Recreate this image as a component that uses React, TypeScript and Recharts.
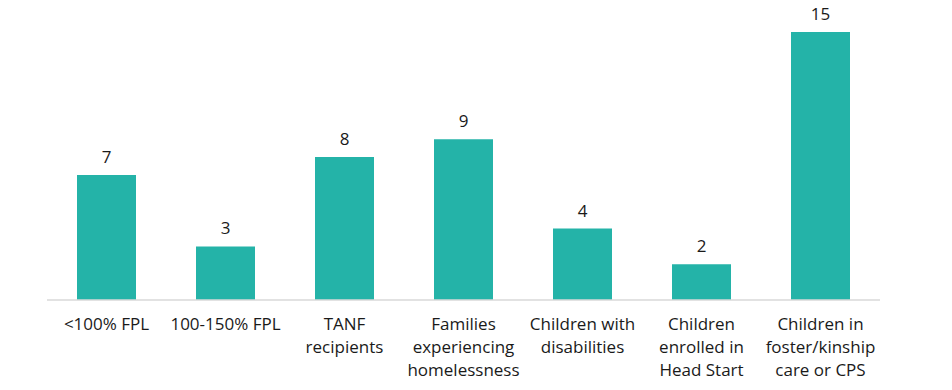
import { BarChart, Bar, XAxis, YAxis, LabelList } from "recharts"

const categories = [
	"<100% FPL",
	"100-150% FPL",
	"TANF\nrecipients",
	"Families\nexperiencing\nhomelessness",
	"Children with\ndisabilities",
	"Children\nenrolled in\nHead Start",
	"Children in\nfoster/kinship\ncare or CPS",
]
const values = [7, 3, 8, 9, 4, 2, 15]

const data = categories.map((name, i) => ({ name, value: values[i] }))

const FONT = "'Open Sans', sans-serif"
const TEAL = "#24B3A8"

function CategoryTick(props: { x?: number; y?: number; payload?: { value: string } }) {
	const { x = 0, y = 0, payload } = props
	const lines = (payload?.value ?? "").split("\n")
	return (
		<text x={x} y={y} textAnchor="middle" fill="#1a1a1a" fontSize={17} fontFamily={FONT}>
			{lines.map((line, i) => (
				<tspan key={i} x={x} dy={i === 0 ? 22 : 23}>
					{line}
				</tspan>
			))}
		</text>
	)
}

export default function App() {
	// pulled up over the body margin so the "15" label has room above the tallest bar
	return (
		<div style={{ marginTop: -8 }}>
			<BarChart
				width={936}
				height={388}
				data={data}
				margin={{ top: 32, right: 64, bottom: 58, left: 39 }}
				barCategoryGap="25%"
			>
				<XAxis
					dataKey="name"
					interval={0}
					tickLine={false}
					axisLine={{ stroke: "#d9d9d9", strokeWidth: 1.5 }}
					tick={<CategoryTick />}
				/>
				<YAxis hide domain={[0, 15]} />
				<Bar dataKey="value" fill={TEAL} barSize={59} isAnimationActive={false}>
					<LabelList
						dataKey="value"
						position="top"
						offset={12}
						fill="#1a1a1a"
						fontSize={17}
						fontFamily={FONT}
					/>
				</Bar>
			</BarChart>
		</div>
	)
}
